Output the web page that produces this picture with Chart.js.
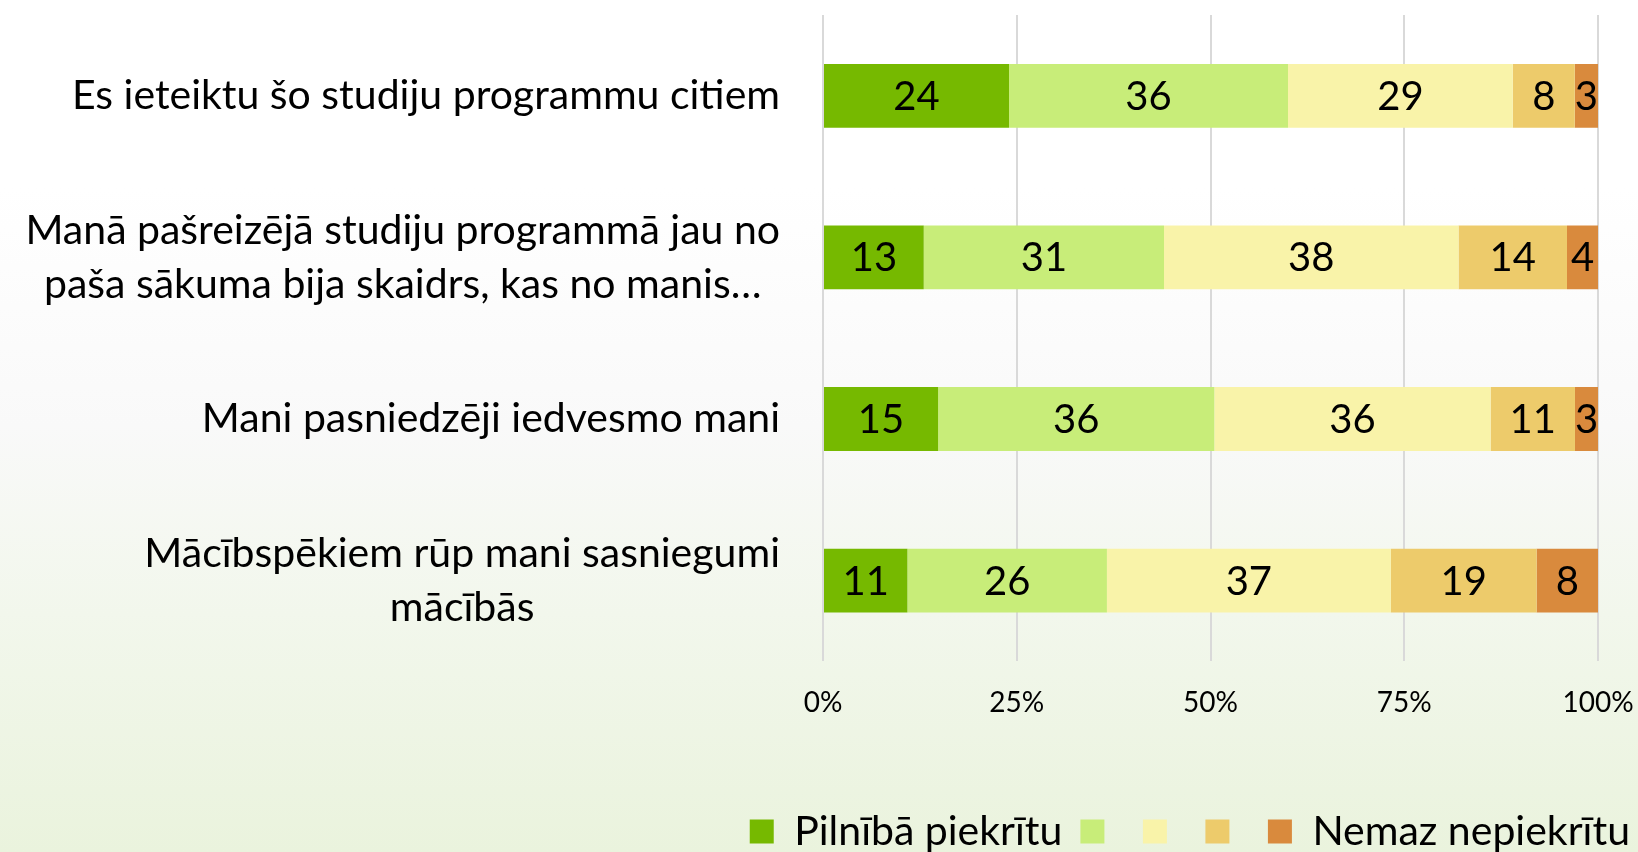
<!DOCTYPE html>
<html>
<head>
<meta charset="utf-8">
<script src="https://cdn.jsdelivr.net/npm/chart.js@4.4.1/dist/chart.umd.min.js"></script>
<style>
  html, body { margin: 0; padding: 0; overflow: hidden; }
  body {
    width: 1638px; height: 852px;
    background: linear-gradient(to bottom, #ffffff 0%, #ffffff 22%, #f9f9f9 50%, #f2f7ec 72%, #eaf3dd 100%);
  }
  #wrap { width: 1648px; height: 862px; }
</style>
</head>
<body>
<div id="wrap"><canvas id="c" width="1648" height="862"></canvas></div>
<script>
// ---- data ----
const categories = [
  ["Es ieteiktu šo studiju programmu citiem"],
  ["Manā pašreizējā studiju programmā jau no", "paša sākuma bija skaidrs, kas no manis…"],
  ["Mani pasniedzēji iedvesmo mani"],
  ["Mācībspēkiem rūp mani sasniegumi", "mācībās"]
];
const seriesNames = ["Pilnībā piekrītu", "", "", "", "Nemaz nepiekrītu"];
const fullyAgree    = [24, 13, 15, 11];
const agree         = [36, 31, 36, 26];
const neutral       = [29, 38, 36, 37];
const disagree      = [8, 14, 11, 19];
const fullyDisagree = [3, 4, 3, 8];
const tickValues = [0, 25, 50, 75, 100];

// ---- styles ----
const colors = ["#76b900", "#c8ed79", "#f9f3a9", "#edcb6b", "#d98a3d"];
const FONT = "Lato, 'Open Sans', sans-serif";

const seriesValues = [fullyAgree, agree, neutral, disagree, fullyDisagree];
const totals = categories.map((_, i) => seriesValues.reduce((s, arr) => s + arr[i], 0));

const datasets = seriesValues.map((arr, k) => ({
  label: seriesNames[k],
  data: arr.map((v, i) => v / totals[i] * 100),
  counts: arr,
  backgroundColor: colors[k],
  borderWidth: 0,
  barPercentage: 0.395,
  categoryPercentage: 1.0
}));

Chart.defaults.color = "#000";
Chart.defaults.font.family = FONT;

const valueLabels = {
  id: "valueLabels",
  afterDatasetsDraw(chart) {
    const ctx = chart.ctx;
    ctx.save();
    ctx.font = "40px " + FONT;
    ctx.fillStyle = "#000";
    ctx.textAlign = "center";
    ctx.textBaseline = "middle";
    chart.data.datasets.forEach((ds, k) => {
      const meta = chart.getDatasetMeta(k);
      meta.data.forEach((bar, i) => {
        const cx = (bar.x + bar.base) / 2;
        ctx.fillText(String(ds.counts[i]), cx, bar.y + 1);
      });
    });
    ctx.restore();
  }
};

const categoryLabels = {
  id: "categoryLabels",
  afterDraw(chart) {
    const ctx = chart.ctx;
    const y = chart.scales.y;
    const right = chart.chartArea.left - 43;
    const lineH = 54;
    ctx.save();
    ctx.font = "41px " + FONT;
    ctx.fillStyle = "#000";
    ctx.textAlign = "center";
    ctx.textBaseline = "middle";
    categories.forEach((lines, i) => {
      const cy = y.getPixelForTick(i);
      const w = Math.max(...lines.map(l => ctx.measureText(l).width));
      const cx = right - w / 2;
      const y0 = cy - (lines.length - 1) * lineH / 2;
      lines.forEach((l, j) => ctx.fillText(l, cx, y0 + j * lineH));
    });
    ctx.restore();
  }
};

new Chart(document.getElementById("c"), {
  type: "bar",
  data: { labels: categories.map(l => l.join(" ")), datasets },
  options: {
    indexAxis: "y",
    responsive: false,
    animation: false,
    layout: { padding: { left: 0, right: 0, top: 15, bottom: 0 } },
    scales: {
      x: {
        stacked: true,
        min: 0, max: 100,
        afterBuildTicks(scale) { scale.ticks = tickValues.map(v => ({ value: v })); },
        afterFit(scale) { scale.paddingRight = 50; },
        ticks: {
          callback: v => v + "%",
          font: { size: 28 },
          padding: 25,
          maxRotation: 0
        },
        grid: { color: "#d9d9d9", lineWidth: 2, drawTicks: false },
        border: { display: false },
        title: { display: true, text: "", font: { size: 10 }, padding: { top: 36, bottom: 0 } }
      },
      y: {
        stacked: true,
        afterFit(scale) { scale.width = 823; },
        ticks: { display: false },
        grid: { display: false },
        border: { display: false }
      }
    },
    plugins: {
      legend: {
        position: "bottom",
        align: "end",
        labels: {
          font: { size: 41 },
          boxWidth: 24,
          boxHeight: 24,
          padding: 18,
          color: "#000"
        }
      },
      tooltip: { enabled: false }
    }
  },
  plugins: [valueLabels, categoryLabels]
});
</script>
</body>
</html>
